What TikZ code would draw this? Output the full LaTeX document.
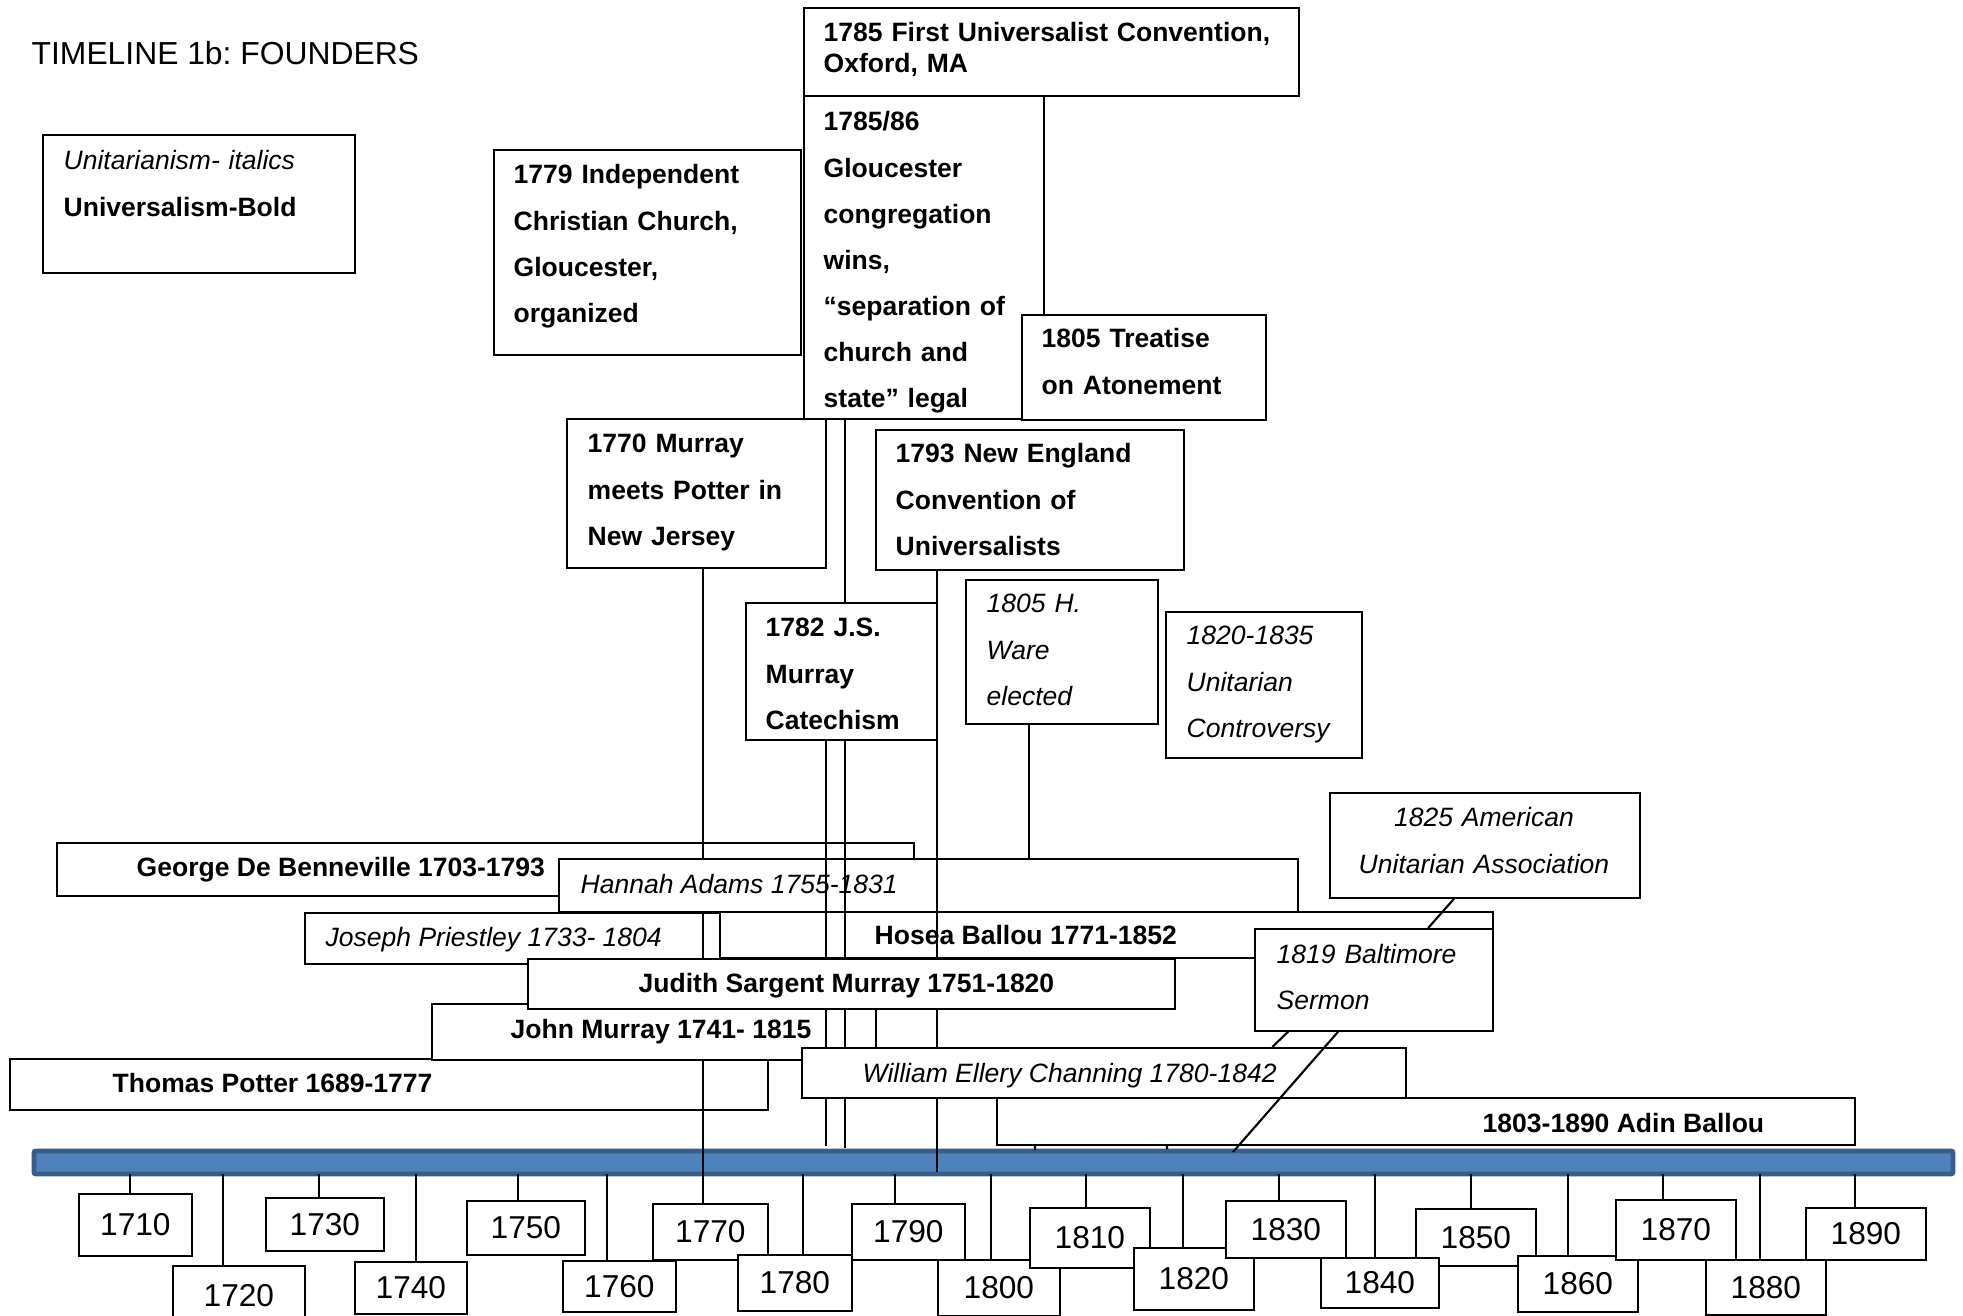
\documentclass[tikz,border=0pt]{standalone}
\usepackage{fontspec}
\setmainfont{Liberation Sans}
\usepackage{tikz}
\usetikzlibrary{positioning, calc}
\frenchspacing

\definecolor{barfill}{RGB}{79,129,189}
\definecolor{barline}{RGB}{56,93,138}
\newcommand{\boxfont}{\fontsize{7.54pt}{13.1pt}\selectfont}
\newcommand{\tightfont}{\fontsize{7.54pt}{8.54pt}\selectfont}
\newcommand{\yrfont}{\fontsize{9pt}{10pt}\selectfont}
\newcommand{\headfont}{\fontsize{9.05pt}{11pt}\selectfont}

\begin{document}
\begin{tikzpicture}[x=0.01cm, y=-0.01cm,
        sz/.style 2 args={minimum width=#1*0.01cm, minimum height=#2*0.01cm},
        ev/.style={draw, fill=white, line width=0.5pt, anchor=north west, inner sep=0pt},
        yr/.style={draw, fill=white, line width=0.5pt, anchor=north west, inner sep=0pt, font=\yrfont},
        univ/.style={anchor=base west, inner sep=0pt, font=\boxfont\bfseries},
        unit/.style={anchor=base west, inner sep=0pt, font=\boxfont\itshape},
        link/.style={line width=0.6pt}]
    \useasboundingbox (0,0) rectangle (1963,1316);

    \node[draw=barline, fill=barfill, line width=1.4pt, rounded corners=0.02cm, anchor=north west, inner sep=0pt, sz={1919}{23}] (bar) at (31.5,1148.5) {};

    \node[yr, sz={113}{62}] (y1710) at (78,1193) {1710};
    \node[yr, sz={132}{59}] (y1720) at (172,1265) {1720};
    \node[yr, sz={118}{53}] (y1730) at (265,1197) {1730};
    \node[yr, sz={112}{52}] (y1740) at (354,1261) {1740};
    \node[yr, sz={118}{54}] (y1750) at (466,1200) {1750};
    \node[yr, sz={113}{51}] (y1760) at (562,1260) {1760};
    \node[yr, sz={115}{56}] (y1770) at (652,1203) {1770};
    \node[yr, sz={114}{56}] (y1780) at (737,1254) {1780};
    \node[yr, sz={113}{56}] (y1790) at (851,1203) {1790};
    \node[yr, sz={122}{56}] (y1800) at (937,1259) {1800};
    \node[yr, sz={120}{60}] (y1810) at (1029,1207) {1810};
    \node[yr, sz={120}{62}] (y1820) at (1133,1247) {1820};
    \node[yr, sz={120}{57}] (y1830) at (1225,1200) {1830};
    \node[yr, sz={120}{57}] (y1850) at (1415,1208) {1850};
    \node[yr, sz={118}{50}] (y1840) at (1320,1257) {1840};
    \node[yr, sz={120}{56}] (y1860) at (1517,1255) {1860};
    \node[yr, sz={120}{60}] (y1870) at (1615,1199) {1870};
    \node[yr, sz={120}{55}] (y1880) at (1705,1259) {1880};
    \node[yr, sz={120}{52}] (y1890) at (1805,1207) {1890};

    \coordinate (k1710) at (130,1174);
    \coordinate (k1720) at (223,1174);
    \coordinate (k1730) at (319,1174);
    \coordinate (k1740) at (416,1174);
    \coordinate (k1750) at (518,1174);
    \coordinate (k1760) at (607,1174);
    \coordinate (k1770) at (703,1174);
    \coordinate (k1780) at (803,1174);
    \coordinate (k1790) at (895,1174);
    \coordinate (k1800) at (991,1174);
    \coordinate (k1810) at (1086,1174);
    \coordinate (k1820) at (1183,1174);
    \coordinate (k1830) at (1279,1174);
    \coordinate (k1840) at (1375,1174);
    \coordinate (k1850) at (1471,1174);
    \coordinate (k1860) at (1568,1174);
    \coordinate (k1870) at (1663,1174);
    \coordinate (k1880) at (1760,1174);
    \coordinate (k1890) at (1855,1174);

    \draw[link]
    (k1710) -- (k1710 |- y1710.north)
    (k1720) -- (k1720 |- y1720.north)
    (k1730) -- (k1730 |- y1730.north)
    (k1740) -- (k1740 |- y1740.north)
    (k1750) -- (k1750 |- y1750.north)
    (k1760) -- (k1760 |- y1760.north)
    (k1780) -- (k1780 |- y1780.north)
    (k1790) -- (k1790 |- y1790.north)
    (k1800) -- (k1800 |- y1800.north)
    (k1810) -- (k1810 |- y1810.north)
    (k1820) -- (k1820 |- y1820.north)
    (k1830) -- (k1830 |- y1830.north)
    (k1840) -- (k1840 |- y1840.north)
    (k1850) -- (k1850 |- y1850.north)
    (k1860) -- (k1860 |- y1860.north)
    (k1870) -- (k1870 |- y1870.north)
    (k1880) -- (k1880 |- y1880.north)
    (k1890) -- (k1890 |- y1890.north);

    \node[anchor=base west, inner sep=0pt, font=\headfont] (title) at (31,65) {TIMELINE 1b: FOUNDERS};

    \node[ev, sz={312}{138}] (key) at (42,134) {};
    \node[anchor=base west, inner sep=0pt, font=\boxfont, text width=2.9cm, align=left] (keyt) at (63,170) {\textit{Unitarianism- italics}\\\textbf{Universalism-Bold}};

    \node[ev, sz={307}{205}] (m1779) at (493,149) {};
    \node[univ, text width=2.8cm, align=left] (m1779t) at (513,184) {1779 Independent\\Christian Church,\\Gloucester,\\organized};

    \node[ev, sz={495}{88}] (m1785a) at (803,7) {};
    \node[univ, font=\tightfont\bfseries, text width=4.7cm, align=left] (m1785at) at (823,42) {1785 First Universalist Convention,\\Oxford, MA};

    \node[ev, sz={240}{323}] (m1785b) at (803,95) {};
    \begin{scope}
        \clip (m1785b.north west) rectangle (m1785b.south east);
        \node[univ, text width=2.2cm, align=left] (m1785bt) at (823,131) {1785/86\\Gloucester\\congregation\\wins,\\“separation of\\church and\\state” legal};
    \end{scope}

    \node[ev, sz={244}{105}] (m1805t) at (1021,314) {};
    \node[univ, text width=2.2cm, align=left] (m1805tt) at (1041,348) {1805 Treatise\\on Atonement};

    \node[ev, sz={259}{149}] (m1770) at (566,418) {};
    \node[univ, text width=2.3cm, align=left] (m1770t) at (587,453) {1770 Murray\\meets Potter in\\New Jersey};

    \node[ev, sz={308}{140}] (m1793) at (875,429) {};
    \node[univ, text width=2.8cm, align=left] (m1793t) at (895,463) {1793 New England\\Convention of\\Universalists};

    \coordinate (k1785) at (845,1148);
    \node[ev, sz={191}{137}] (m1782) at (745,602) {};
    \node[univ, text width=1.7cm, align=left] (m1782t) at (765,637) {1782 J.S.\\Murray\\Catechism};
    \draw[link] (k1785 |- m1785b.south) -- (k1785 |- m1782.north);

    \node[ev, sz={192}{144}] (m1805w) at (965,579) {};
    \node[unit, text width=1.7cm, align=left] (m1805wt) at (986,613) {1805 H.\\Ware\\elected};

    \node[ev, sz={196}{146}] (m1820) at (1165,611) {};
    \node[unit, text width=1.7cm, align=left] (m1820t) at (1186,645) {1820-1835\\Unitarian\\Controversy};

    \node[ev, sz={310}{105}] (m1825) at (1329,792) {};
    \node[unit, anchor=base, text width=2.9cm, align=center] (m1825t) at (1484,827) {1825 American\\Unitarian Association};

    \node[ev, sz={857}{53}] (benneville) at (56,842) {};
    \node[univ] (bennevillet) at (136,877) {George De Benneville 1703-1793};

    \node[ev, sz={758}{51}] (potter) at (9,1058) {};
    \node[univ] (pottert) at (112,1093) {Thomas Potter 1689-1777};

    \node[ev, sz={415}{51}] (priestley) at (304,912) {};
    \node[unit] (priestleyt) at (325,947) {Joseph Priestley 1733- 1804};

    \draw[link] (k1770 |- m1770.south) -- (k1770 |- y1770.north);

    \node[ev, sz={739}{53}] (adams) at (558,858) {};
    \node[unit] (adamst) at (580,893) {Hannah Adams 1755-1831};

    \coordinate (k1805) at (1029,858);
    \draw[link] (k1805 |- m1805w.south) -- (k1805 |- adams.north);

    \node[ev, sz={444}{56}] (jmurray) at (431,1003) {};
    \node[univ] (jmurrayt) at (510,1038) {John Murray 1741- 1815};

    \node[ev, sz={773}{46}] (hballou) at (719,911) {};
    \node[univ] (hballout) at (874,945) {Hosea Ballou 1771-1852};

    \coordinate (k1782) at (826,1146);
    \coordinate (k1793) at (937,1172);
    \draw[link]
    (k1782 |- m1782.south) -- (k1782)
    (k1785 |- m1782.south) -- (k1785)
    (k1793 |- m1793.south) -- (k1793);

    \node[ev, sz={238}{102}] (m1819) at (1254,928) {};
    \node[unit, text width=2cm, align=left] (m1819t) at (1276,963) {1819 Baltimore\\Sermon};
    \draw[link] ([xshift=1.25cm]m1825.south west) -- ([xshift=1.74cm]m1819.north west);

    \node[ev, sz={647}{50}] (judith) at (527,958) {};
    \node[univ] (juditht) at (638,992) {Judith Sargent Murray 1751-1820};

    \node[ev, sz={604}{50}] (channing) at (801,1047) {};
    \node[unit] (channingt) at (862,1082) {William Ellery Channing 1780-1842};
    \draw[link] ([xshift=0.34cm]m1819.south west) -- ([xshift=4.71cm]channing.north west);

    \node[ev, sz={858}{47}] (aballou) at (996,1097) {};
    \node[univ] (aballout) at (1482,1132) {1803-1890 Adin Ballou};

    \coordinate (b1819) at (1233,1152);
    \coordinate (s1) at (1035,1150);
    \coordinate (s2) at (1167,1149);
    \draw[link]
    ([xshift=0.84cm]m1819.south west) -- (b1819)
    (s1 |- aballou.south) -- (s1)
    (s2 |- aballou.south) -- (s2);
\end{tikzpicture}
\end{document}
